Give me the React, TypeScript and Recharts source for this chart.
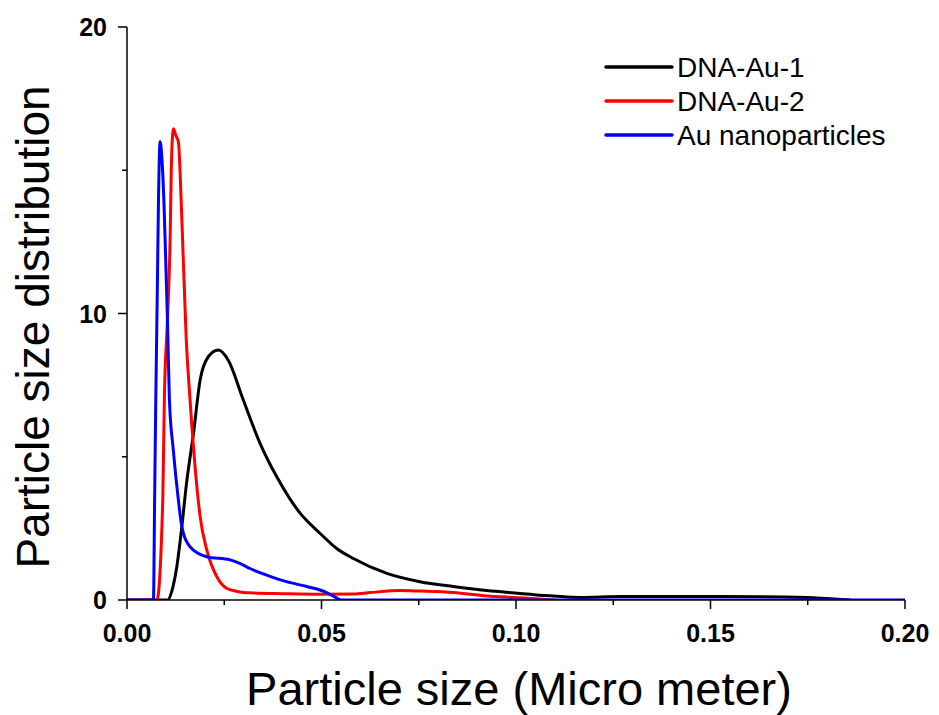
import { LineChart, Line, XAxis, YAxis, Legend } from 'recharts';

const xTicks = [0, 0.025, 0.05, 0.075, 0.1, 0.125, 0.15, 0.175, 0.2];
const xLabels = [0, 0.05, 0.1, 0.15, 0.2];
const yTicks = [0, 5, 10, 15, 20];
const yLabels = [0, 10, 20];

const seriesNames = ['DNA-Au-1', 'DNA-Au-2', 'Au nanoparticles'];
const seriesColors = ['#000000', '#ff0000', '#0000ff'];

// DNA-Au-1
const dna1X = [0, 0.0105, 0.0115, 0.0128, 0.0141, 0.0153, 0.0171, 0.0188, 0.0209, 0.0235, 0.026, 0.0299, 0.0342, 0.0385, 0.0445, 0.0496, 0.0539, 0.0582, 0.0668, 0.0753, 0.0839, 0.0925, 0.101, 0.106, 0.1096, 0.1165, 0.127, 0.152, 0.175, 0.18, 0.186];
const dna1Y = [0, 0, 0.3, 1.16, 2.56, 4.07, 5.82, 7.68, 8.49, 8.73, 8.38, 6.98, 5.47, 4.3, 3.03, 2.33, 1.8, 1.45, 0.93, 0.64, 0.47, 0.33, 0.23, 0.17, 0.14, 0.09, 0.12, 0.12, 0.09, 0.05, 0];

// DNA-Au-2
const dna2X = [0, 0.0077, 0.0092, 0.0096, 0.0104, 0.0111, 0.0114, 0.0119, 0.0126, 0.0132, 0.0141, 0.0152, 0.0162, 0.0175, 0.0188, 0.0205, 0.0231, 0.0256, 0.0286, 0.0316, 0.0402, 0.0496, 0.0582, 0.0625, 0.0702, 0.0753, 0.0839, 0.0925, 0.101, 0.11];
const dna2Y = [0, 0, 3.5, 7.0, 9.77, 12.7, 15.1, 16.45, 16.2, 16.0, 13.3, 9.19, 7.0, 4.65, 2.91, 1.75, 0.81, 0.41, 0.29, 0.25, 0.22, 0.2, 0.21, 0.26, 0.33, 0.31, 0.26, 0.14, 0.08, 0];

// Au nanoparticles
const auX = [0, 0.0068, 0.0071, 0.0074, 0.0078, 0.0081, 0.0085, 0.009, 0.0095, 0.0099, 0.0104, 0.0109, 0.0119, 0.0132, 0.0141, 0.0162, 0.0205, 0.0265, 0.029, 0.0316, 0.0359, 0.041, 0.0462, 0.0496, 0.0513, 0.0535, 0.0552, 0.2];
const auY = [0, 0, 3.5, 7.0, 10.9, 14.0, 16.0, 15.36, 13.86, 12.1, 9.77, 7.0, 5.24, 3.5, 2.56, 1.86, 1.51, 1.4, 1.28, 1.1, 0.87, 0.64, 0.47, 0.35, 0.26, 0.1, 0, 0];

const zip = (xs: number[], ys: number[]) => xs.map((x, i) => ({ x, y: ys[i] }));
const seriesData = [zip(dna1X, dna1Y), zip(dna2X, dna2Y), zip(auX, auY)];

const FONT = '"Liberation Sans", Arial, sans-serif';

const XTick = ({ x, y, payload }: any) => {
  const major = xLabels.some((v) => Math.abs(v - payload.value) < 1e-9);
  return (
    <g>
      <line x1={x} x2={x} y1={y} y2={y + (major ? 9 : 5)} stroke='#000' strokeWidth={1.5} />
      {major && (
        <text x={x} y={y + 42} textAnchor='middle' fontSize={25} fontWeight='bold' fontFamily={FONT} fill='#000'>
          {payload.value.toFixed(2)}
        </text>
      )}
    </g>
  );
};

const YTick = ({ x, y, payload }: any) => {
  const major = yLabels.includes(payload.value);
  return (
    <g>
      <line x1={x - (major ? 9 : 5)} x2={x} y1={y} y2={y} stroke='#000' strokeWidth={1.5} />
      {major && (
        <text x={x - 20} y={y + 9} textAnchor='end' fontSize={25} fontWeight='bold' fontFamily={FONT} fill='#000'>
          {payload.value}
        </text>
      )}
    </g>
  );
};

const LegendBox = () => (
  <svg width={330} height={110}>
    {seriesNames.map((name, i) => (
      <g key={name}>
        <line x1={8} x2={74} y1={17 + i * 34} y2={17 + i * 34} stroke={seriesColors[i]} strokeWidth={3.5} strokeLinecap='round' />
        <text x={79} y={17 + i * 34 + 10} fontSize={28} fontFamily={FONT} fill='#000'>
          {name}
        </text>
      </g>
    ))}
  </svg>
);

export default function App() {
  return (
    <LineChart
      width={931}
      height={707}
      margin={{ top: 19, right: 34, bottom: 55, left: 39 }}
      style={{ fontFamily: FONT }}
    >
      <XAxis
        type='number'
        dataKey='x'
        domain={[0, 0.2]}
        ticks={xTicks}
        height={60}
        allowDataOverflow
        tickSize={0}
        tickMargin={0}
        tickLine={false}
        axisLine={{ stroke: '#000', strokeWidth: 1.5 }}
        tick={<XTick />}
        interval={0}
        label={{
          content: () => (
            <text x={511} y={697} textAnchor='middle' fontSize={47} fontFamily={FONT} fill='#000'>
              Particle size (Micro meter)
            </text>
          ),
        }}
      />
      <YAxis
        type='number'
        domain={[0, 20]}
        ticks={yTicks}
        width={80}
        allowDataOverflow
        tickSize={0}
        tickMargin={0}
        tickLine={false}
        axisLine={{ stroke: '#000', strokeWidth: 1.5 }}
        tick={<YTick />}
        interval={0}
        label={{
          content: () => (
            <text
              x={41}
              y={319}
              transform='rotate(-90 41 319)'
              textAnchor='middle'
              fontSize={46}
              fontFamily={FONT}
              fill='#000'
            >
              Particle size distribution
            </text>
          ),
        }}
      />
      <Legend
        layout='vertical'
        align='center'
        verticalAlign='middle'
        content={<LegendBox />}
        wrapperStyle={{ left: 590, top: 42, width: 330, height: 110 }}
      />
      {seriesNames.map((name, i) => (
        <Line
          key={name}
          name={name}
          data={seriesData[i]}
          dataKey='y'
          type='monotone'
          stroke={seriesColors[i]}
          strokeWidth={3}
          dot={false}
          activeDot={false}
          isAnimationActive={false}
        />
      ))}
    </LineChart>
  );
}
